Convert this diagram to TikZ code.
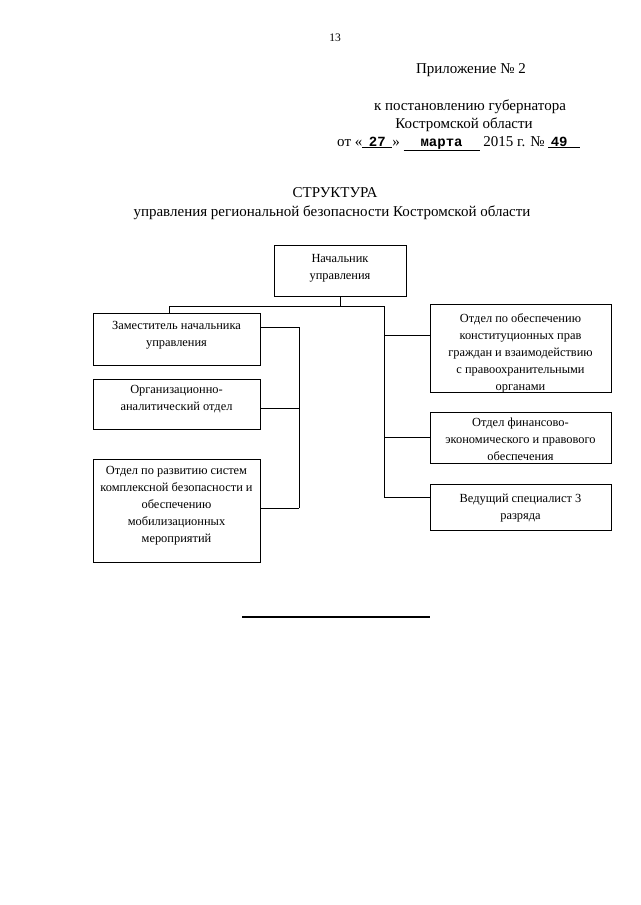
\documentclass[tikz,border=0pt]{standalone}
\usepackage{fontspec}
\setmainfont{Liberation Serif}
\setmonofont{Liberation Mono}
\tikzset{
  box/.style={draw, line width=0.9pt, inner sep=0pt},
  boxtext/.style={anchor=north, inner sep=0pt, align=center, font=\fontsize{12.4}{17}\selectfont},
  head/.style={inner sep=0pt, font=\fontsize{15}{18}\selectfont},
  link/.style={line width=0.9pt},
}
\begin{document}
\begin{tikzpicture}[x=1pt, y=-1pt]
\useasboundingbox (0,0) rectangle (640,905);
\fill[white] (0,0) rectangle (640,905);

% header texts
\node[head, anchor=base, font=\fontsize{11.5}{13}\selectfont] (pg) at (335,41) {13};
\node[head, anchor=base] (pril) at (471,73) {Приложение № 2};
\node[head, anchor=base] (k1) at (470,110) {к постановлению губернатора};
\node[head, anchor=base] (k2) at (464,128) {Костромской области};
\node[head, anchor=base west] (k3) at (337,146) {от «\underline{\makebox[30pt]{\ttfamily\bfseries\fontsize{14}{16}\selectfont 27}}» \underline{\makebox[76pt]{\ttfamily\bfseries\fontsize{14}{16}\selectfont марта}} 2015 г. № \underline{\makebox[32pt][l]{\,\ttfamily\bfseries\fontsize{14}{16}\selectfont 49}}};
\node[head, anchor=base] (t1) at (335,197) {СТРУКТУРА};
\node[head, anchor=base] (t2) at (332,216) {управления региональной безопасности Костромской области};

% boxes
\node[box, minimum width=132pt, minimum height=51pt] (nach) at (340,270.5) {};
\node[box, minimum width=167pt, minimum height=52pt] (zam) at (176.5,339) {};
\node[box, minimum width=167pt, minimum height=50pt] (org) at (176.5,404) {};
\node[box, minimum width=167pt, minimum height=103pt] (razv) at (176.5,510.5) {};
\node[box, minimum width=181pt, minimum height=88pt] (konst) at (520.5,348) {};
\node[box, minimum width=181pt, minimum height=51pt] (fin) at (520.5,437.5) {};
\node[box, minimum width=181pt, minimum height=46pt] (ved) at (520.5,507) {};

% box texts
\node[boxtext] (nachT) at ([yshift=-9.5pt]nach.north) {Начальник\\управления};
\node[boxtext] (zamT) at ([yshift=-9pt]zam.north) {Заместитель начальника\\управления};
\node[boxtext] (orgT) at ([yshift=-7pt]org.north) {Организационно-\\аналитический отдел};
\node[boxtext] (razvT) at ([yshift=-8pt]razv.north) {Отдел по развитию систем\\комплексной безопасности и\\обеспечению\\мобилизационных\\мероприятий};
\node[boxtext] (konstT) at ([yshift=-10pt]konst.north) {Отдел по обеспечению\\конституционных прав\\граждан и взаимодействию\\с правоохранительными\\органами};
\node[boxtext] (finT) at ([yshift=-6pt]fin.north) {Отдел финансово-\\экономического и правового\\обеспечения};
\node[boxtext] (vedT) at ([yshift=-10pt]ved.north) {Ведущий специалист 3\\разряда};

% junction coordinates
\coordinate (jc) at (340,306);
\coordinate (jl) at (169,306);
\coordinate (jr) at (384,306);
\coordinate (r1) at (384,335);
\coordinate (r2) at (384,437);
\coordinate (r3) at (384,497);
\coordinate (l1) at (299,327);
\coordinate (l2) at (299,408);
\coordinate (l3) at (299,508);

% connectors
\draw[link] (nach.south) -- (jc);
\draw[link] (jl) -- (jr);
\draw[link] (jl) -- (jl |- zam.north);
\draw[link] (jr) -- (r3);
\draw[link] (r1) -- (r1 -| konst.west);
\draw[link] (r2) -- (r2 -| fin.west);
\draw[link] (r3) -- (r3 -| ved.west);
\draw[link] (l1 -| zam.east) -- (l1) -- (l3);
\draw[link] (l2 -| org.east) -- (l2);
\draw[link] (l3 -| razv.east) -- (l3);

% closing rule
\coordinate (e1) at (242,617);
\coordinate (e2) at (430,617);
\draw[line width=1.1pt] (e1) -- (e2);
\end{tikzpicture}
\end{document}
